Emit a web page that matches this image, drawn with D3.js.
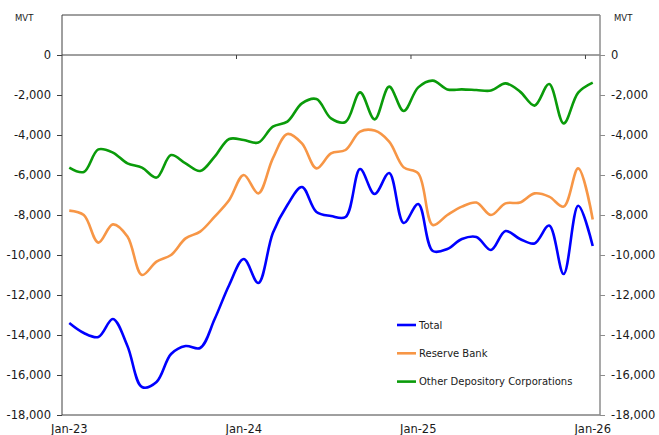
<!DOCTYPE html>
<html>
<head>
<meta charset="utf-8">
<script src="https://cdn.jsdelivr.net/npm/d3@7"></script>
<style>
  body { margin: 0; background: #fff; }
  svg { display: block; font-family: "DejaVu Sans", sans-serif; }
</style>
</head>
<body>
<div id="chart"></div>
<script>
// Monthly categories Jan-23 .. Jan-26 (37 points)
const months = d3.range(37).map(i => new Date(2023, i, 1));
const xTickLabels = ["Jan-23", "Jan-24", "Jan-25", "Jan-26"];
const yTicks = [0, -2000, -4000, -6000, -8000, -10000, -12000, -14000, -16000, -18000];

// Values (MVT)
const total = [
  -13400, -13900, -14100, -13200, -14550, -16600, -16350, -14950, -14550, -14650,
  -13200, -11500, -10200, -11400, -8900, -7500, -6600, -7850, -8050, -8100,
  -5700, -6950, -5900, -8400, -7450, -9800, -9700, -9200, -9100, -9750,
  -8800, -9200, -9420, -8530, -10950, -7540, -9550
];
const reserveBank = [
  -7780, -8000, -9380, -8470, -9080, -11000, -10330, -10000, -9170, -8830,
  -8080, -7250, -6000, -6920, -5170, -3950, -4420, -5670, -4920, -4750,
  -3830, -3780, -4330, -5620, -5920, -8500, -8000, -7580, -7380, -8000,
  -7420, -7380, -6920, -7080, -7580, -5670, -8220
];
const otherDepository = [
  -5630, -5850, -4720, -4880, -5420, -5630, -6130, -5000, -5420, -5800,
  -5080, -4200, -4250, -4380, -3580, -3330, -2420, -2200, -3170, -3350,
  -1870, -3220, -1580, -2800, -1620, -1280, -1720, -1720, -1750, -1780,
  -1420, -1830, -2530, -1450, -3420, -1880, -1380
];

const series = [
  { name: "Total", values: total, color: "#0000ff" },
  { name: "Reserve Bank", values: reserveBank, color: "#f79646" },
  { name: "Other Depository Corporations", values: otherDepository, color: "#0a9b0a" }
];

const width = 659, height = 435;
const plot = { left: 62, right: 600, top: 15, bottom: 415 };

const svg = d3.select("#chart")
  .append("svg")
  .attr("width", width)
  .attr("height", height);

const x = d3.scaleBand()
  .domain(months)
  .range([plot.left, plot.right])
  .paddingInner(0)
  .paddingOuter(0);

const y = d3.scaleLinear()
  .domain([-18000, 2000])
  .range([plot.bottom, plot.top]);

const xc = d => x(d) + x.bandwidth() / 2;

// plain hyphen for negatives, like the source
const fmt = d => d3.format(",")(d).replace("\u2212", "-");

// Plot frame: top and bottom edges
svg.append("line")
  .attr("x1", plot.left).attr("x2", plot.right)
  .attr("y1", plot.top).attr("y2", plot.top)
  .attr("stroke", "#404040");
svg.append("line")
  .attr("x1", plot.left).attr("x2", plot.right)
  .attr("y1", plot.bottom).attr("y2", plot.bottom)
  .attr("stroke", "#404040");

// Zero line with tick marks between years
svg.append("line")
  .attr("x1", plot.left).attr("x2", plot.right)
  .attr("y1", y(0)).attr("y2", y(0))
  .attr("stroke", "#404040");
svg.selectAll(".zero-tick")
  .data([months[12], months[24], months[36]])
  .join("line")
  .attr("class", "zero-tick")
  .attr("x1", d => x(d)).attr("x2", d => x(d))
  .attr("y1", y(0)).attr("y2", y(0) + 4)
  .attr("stroke", "#404040");

// Left axis
const leftAxis = svg.append("g")
  .attr("transform", `translate(${plot.left},0)`)
  .call(d3.axisLeft(y).tickValues(yTicks).tickSize(5).tickPadding(6).tickFormat(fmt));

// Right axis
const rightAxis = svg.append("g")
  .attr("transform", `translate(${plot.right},0)`)
  .call(d3.axisRight(y).tickValues(yTicks).tickSize(5).tickPadding(6).tickFormat(fmt));

[leftAxis, rightAxis].forEach(g => {
  g.select(".domain").attr("d", null);
  g.selectAll("text").attr("font-size", 11.5).attr("fill", "#1a1a1a")
    .attr("font-family", "DejaVu Sans");
});
leftAxis.selectAll("line").attr("stroke", "#404040");
rightAxis.selectAll("line").attr("stroke", "#8c8c8c");

svg.append("line")
  .attr("x1", plot.left).attr("x2", plot.left)
  .attr("y1", plot.top).attr("y2", plot.bottom)
  .attr("stroke", "#404040");
svg.append("line")
  .attr("x1", plot.right).attr("x2", plot.right)
  .attr("y1", plot.top).attr("y2", plot.bottom)
  .attr("stroke", "#8c8c8c").attr("stroke-width", 1.5);

// Bottom category labels
const labelled = [months[0], months[12], months[24], months[36]];
const bottomAxis = svg.append("g")
  .attr("transform", `translate(0,${plot.bottom})`)
  .call(d3.axisBottom(x).tickValues(labelled).tickSize(0).tickPadding(10)
    .tickFormat((d, i) => xTickLabels[i]));
bottomAxis.select(".domain").remove();
bottomAxis.selectAll("text").attr("font-size", 11.5).attr("fill", "#1a1a1a")
  .attr("font-family", "DejaVu Sans");

// Unit labels
svg.append("text").attr("x", 15).attr("y", 21)
  .attr("font-size", 8.5).attr("fill", "#1a1a1a").text("MVT");
svg.append("text").attr("x", 614).attr("y", 21)
  .attr("font-size", 8.5).attr("fill", "#1a1a1a").text("MVT");

// Lines
const line = d3.line()
  .x((d, i) => xc(months[i]))
  .y(d => y(d))
  .curve(d3.curveCatmullRom.alpha(0.5));

svg.selectAll(".series")
  .data(series)
  .join("path")
  .attr("class", "series")
  .attr("fill", "none")
  .attr("stroke", d => d.color)
  .attr("stroke-width", 2.6)
  .attr("stroke-linejoin", "round")
  .attr("d", d => line(d.values));

// Legend
const legend = svg.append("g").attr("transform", "translate(397,325)");
const items = legend.selectAll("g")
  .data(series)
  .join("g")
  .attr("transform", (d, i) => `translate(0,${i * 28.3})`);
items.append("line")
  .attr("x1", 0).attr("x2", 19)
  .attr("stroke", d => d.color)
  .attr("stroke-width", 2.6);
items.append("text")
  .attr("x", 22)
  .attr("dy", "0.35em")
  .attr("font-size", 10)
  .attr("fill", "#1a1a1a")
  .text(d => d.name);
</script>
</body>
</html>
